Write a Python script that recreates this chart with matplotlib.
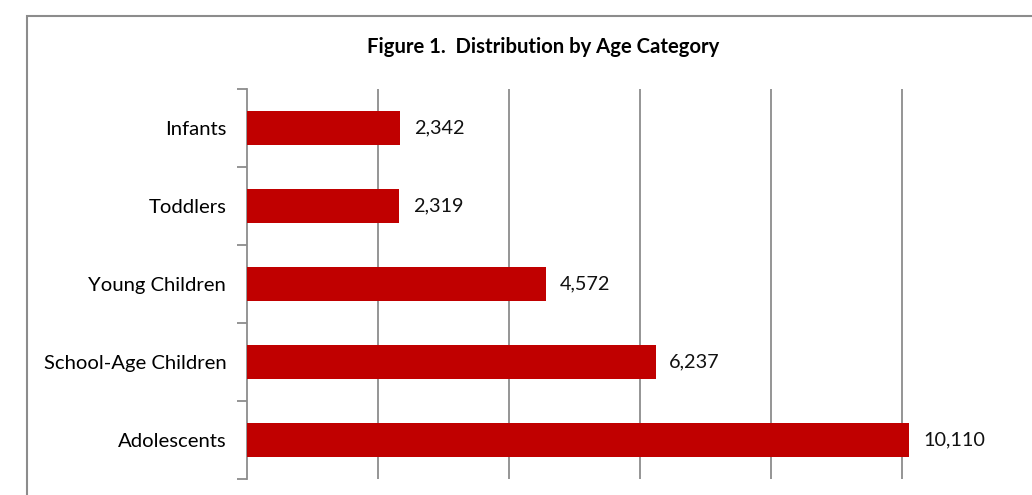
import matplotlib.pyplot as plt
from matplotlib.patches import Rectangle

categories = ['Infants', 'Toddlers', 'Young Children', 'School-Age Children', 'Adolescents']
counts = [2342, 2319, 4572, 6237, 10110]

plt.rcParams['font.family'] = ['Lato', 'DejaVu Sans']

fig = plt.figure(figsize=(10.32, 4.95), dpi=100)
W, H = 1032, 495

# outer chart border (runs off the right and bottom edges)
fig.patches.append(Rectangle((27 / W, -0.1), 1.2, 1 - 16 / H + 0.1, transform=fig.transFigure,
                             fill=False, edgecolor='#8c8c8c', linewidth=1.5))

ax = fig.add_axes([247 / W, 1 - 479 / H, 786 / W, 390 / H])
pos = list(range(len(categories)))
ax.barh(pos, counts, height=0.43, color='#c00000', zorder=3)
ax.set_ylim(len(categories) - 0.5, -0.5)
ax.set_xlim(0, 12000)

for y, v in zip(pos, counts):
    ax.text(v + 210, y, f'{v:,}', va='center', ha='left', fontsize=14.3, color='#111111')

ax.set_xticks([2000, 4000, 6000, 8000, 10000, 12000])
ax.tick_params(axis='x', length=0, labelbottom=False)
ax.grid(axis='x', color='#8c8c8c', linewidth=1.3, zorder=0)

ax.set_yticks(pos)
ax.set_yticklabels(categories, fontsize=14.6)
ax.tick_params(axis='y', length=0, pad=15)
ax.set_yticks([p - 0.5 for p in pos] + [len(pos) - 0.5], minor=True)
ax.tick_params(axis='y', which='minor', length=7, width=1.3, color='#8c8c8c')

for s in ['top', 'right', 'bottom']:
    ax.spines[s].set_visible(False)
ax.spines['left'].set_color('#8c8c8c')
ax.spines['left'].set_linewidth(1.3)

fig.text(543 / W, 1 - 47 / H, 'Figure 1.  Distribution by Age Category', ha='center', va='center',
         fontsize=14.6, fontweight='bold')

plt.savefig('out.png', dpi=100)
